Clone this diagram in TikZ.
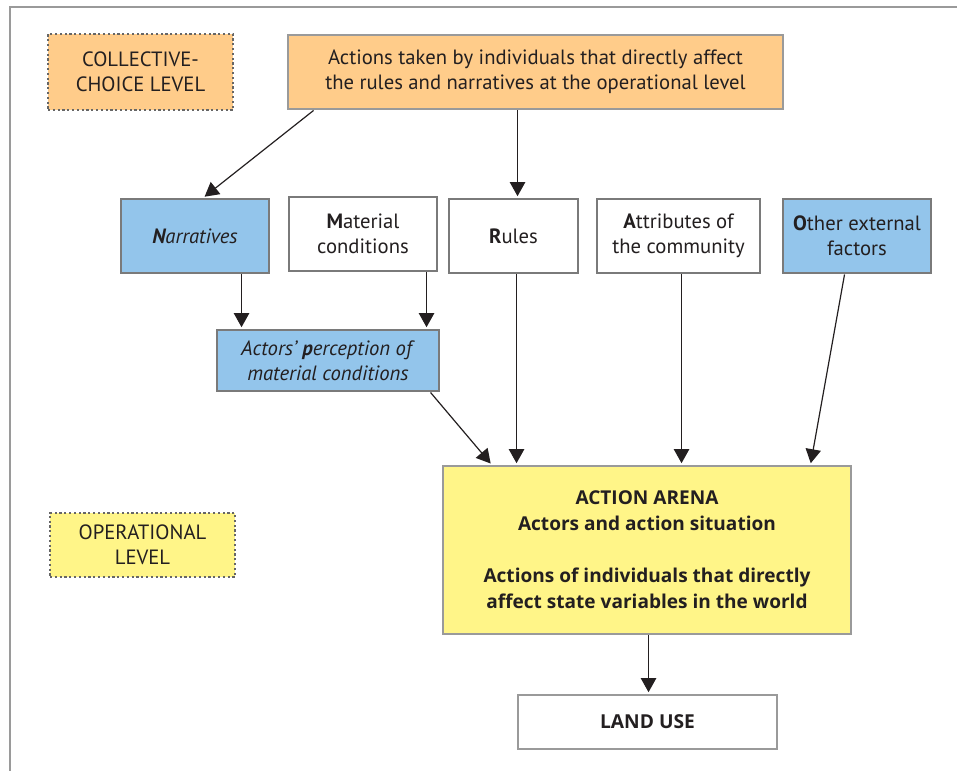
\documentclass[tikz,border=0pt]{standalone}
\usepackage{fontspec}
\setmainfont{PT Sans}
\newfontfamily\heavyfont{Open Sans}[UprightFont=* Bold]
\usetikzlibrary{calc,arrows.meta}
\definecolor{orangefill}{HTML}{FFCC8A}
\definecolor{bluefill}{HTML}{93C5EB}
\definecolor{yellowfill}{HTML}{FFF588}
\definecolor{boxline}{HTML}{7A7A7A}
\definecolor{lightline}{HTML}{9A9A9A}
\definecolor{dotline}{HTML}{666666}
\definecolor{ink}{HTML}{231F20}
\def\px{0.75pt}
\tikzset{
  box/.style={draw=boxline, line width=2.2pt, align=center, inner sep=2pt,
    font=\fontsize{15.5}{18.75}\selectfont, text=ink},
  levelbox/.style={draw=dotline, line width=1.6pt, dotted, align=center,
    font=\fontsize{15.5}{18.75}\selectfont, text=ink},
  arr/.style={line width=0.9pt, draw=ink, -{Triangle[width=11.5pt,length=10.5pt]}, shorten >=1pt},
}
\begin{document}
\begin{tikzpicture}[x=0.75pt,y=-0.75pt]
\useasboundingbox (0,0) rectangle (957,771);
\draw[lightline, line width=1.5pt] (9.5,771) -- (9.5,7) -- (957,7);

\node[levelbox, fill=orangefill, minimum width=185*\px, minimum height=76*\px] (coll) at (140.5,72) {COLLECTIVE-\\CHOICE LEVEL};
\node[box, draw=lightline, fill=orangefill, minimum width=495*\px, minimum height=74*\px] (top) at (535.5,72) {Actions taken by individuals that directly affect\\the rules and narratives at the operational level};

\node[box, fill=bluefill, minimum width=148*\px, minimum height=74*\px] (narr) at (195,236) {\textit{\textbf{N}arratives}};
\node[box, fill=white, minimum width=148*\px, minimum height=74*\px] (mat) at (363,234) {\textbf{M}aterial\\conditions};
\node[box, fill=white, minimum width=129*\px, minimum height=74*\px] (rules) at (513.5,236) {\textbf{R}ules};
\node[box, fill=white, minimum width=163*\px, minimum height=74*\px] (attr) at (678.5,236) {\textbf{A}ttributes of\\the community};
\node[box, fill=bluefill, minimum width=148*\px, minimum height=74*\px] (other) at (857,236) {\textbf{O}ther external\\factors};

\node[box, fill=bluefill, minimum width=222*\px, minimum height=61*\px] (perc) at (328,360.5) {\textit{Actors’ \textbf{p}erception of}\\\textit{material conditions}};

\node[box, draw=lightline, fill=yellowfill, minimum width=408*\px, minimum height=168*\px, font=\fontsize{14.3}{19.5}\heavyfont] (arena) at (647,550) {ACTION ARENA\\Actors and action situation\\[19.5pt]Actions of individuals that directly\\affect state variables in the world};
\node[levelbox, fill=yellowfill, minimum width=185*\px, minimum height=64*\px] (oper) at (142.5,545) {OPERATIONAL\\LEVEL};

\node[box, draw=lightline, fill=white, minimum width=259*\px, minimum height=54*\px, font=\fontsize{14.4}{18.75}\heavyfont] (land) at (647.5,722) {LAND USE};

\draw[arr] ($(top.south west)+(27,0)$) -- ($(narr.north west)+(84,0)$);
\draw[arr] ($(top.south west)+(231,0)$) -- ($(rules.north west)+(70,0)$);
\draw[arr] ($(narr.south west)+(122,0)$) -- ($(perc.north west)+(26,0)$);
\draw[arr] ($(mat.south west)+(139,0)$) -- ($(perc.north west)+(211,0)$);
\draw[arr] ($(perc.south west)+(215,0)$) -- ($(arena.north west)+(50,0)$);
\draw[arr] ($(rules.south west)+(69,0)$) -- ($(arena.north west)+(75,0)$);
\draw[arr] ($(attr.south west)+(86,0)$) -- ($(arena.north west)+(240,0)$);
\draw[arr] ($(other.south west)+(63,0)$) -- ($(arena.north west)+(369,0)$);
\draw[arr] ($(arena.south west)+(207,0)$) -- ($(land.north west)+(132,0)$);
\end{tikzpicture}
\end{document}
